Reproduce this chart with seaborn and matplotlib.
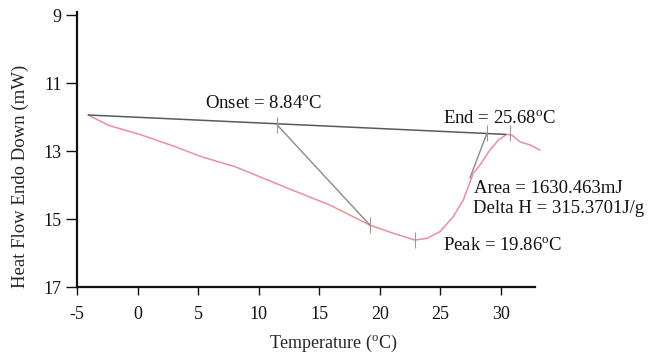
import matplotlib
matplotlib.use("Agg")
import matplotlib.pyplot as plt
import seaborn as sns
import pandas as pd

# ---- data ----
temperature = [-4.07, -2.42, 0.34, 3.09, 5.30, 8.05, 10.38, 13.14, 15.89, 19.19,
               21.12, 22.91, 23.88, 24.98, 26.07, 26.90, 27.72, 28.28, 29.10,
               29.79, 30.48, 30.90, 31.58, 32.41, 33.23]
heat_flow = [11.94, 12.24, 12.53, 12.87, 13.17, 13.46, 13.80, 14.20, 14.59, 15.18,
             15.42, 15.62, 15.57, 15.37, 14.93, 14.44, 13.66, 13.41, 12.97,
             12.68, 12.51, 12.53, 12.73, 12.82, 12.97]

baseline_x = [-4.07, 30.40]
baseline_y = [11.94, 12.51]
onset_line_x = [11.52, 19.19]
onset_line_y = [12.23, 15.18]
end_line_x = [27.45, 28.86]
end_line_y = [13.79, 12.47]
marker_x = [11.52, 19.19, 22.91, 28.86, 30.75]
marker_y = [12.23, 15.18, 15.62, 12.47, 12.47]

x_ticks = [-5, 0, 5, 10, 15, 20, 25, 30]
y_ticks = [9, 11, 13, 15, 17]

labels = [
    ("Onset = 8.84$^{\\mathrm{o}}$C", 5.57, 11.59),
    ("End = 25.68$^{\\mathrm{o}}$C", 25.22, 12.03),
    ("Area = 1630.463mJ", 27.80, 14.09),
    ("Delta H = 315.3701J/g", 27.70, 14.68),
    ("Peak = 19.86$^{\\mathrm{o}}$C", 25.20, 15.79),
]

# ---- style ----
sns.set_style("ticks")
plt.rcParams['font.family'] = ['Liberation Serif', 'DejaVu Serif']
plt.rcParams['mathtext.fontset'] = 'custom'
plt.rcParams['mathtext.rm'] = 'Liberation Serif'
plt.rcParams['mathtext.it'] = 'Liberation Serif:italic'
plt.rcParams['mathtext.bf'] = 'Liberation Serif:bold'

fig = plt.figure(figsize=(6.52, 3.55), dpi=100)
ax = fig.add_axes([77 / 652, 68 / 355, 458 / 652, 275 / 355])

df = pd.DataFrame({"Temperature": temperature, "HeatFlow": heat_flow})
sns.lineplot(data=df, x="Temperature", y="HeatFlow", ax=ax, color="#ee8e98",
             linewidth=1.1, sort=False, clip_on=False)

ax.plot(baseline_x, baseline_y, color="#5a5a5a", linewidth=1.1)
ax.plot(onset_line_x, onset_line_y, color="#8a8a8a", linewidth=1.0)
ax.plot(end_line_x, end_line_y, color="#8a8a8a", linewidth=1.0)
ax.plot(marker_x, marker_y, linestyle="none", marker="|", markersize=11,
        markeredgewidth=0.8, color="#9a9a9a")

for txt, x, y in labels:
    ax.text(x, y, txt, fontsize=13.5, ha="left", va="center", color="#111111")

ax.set_xlim(-5, 32.82)
ax.set_ylim(17, 8.91)
ax.set_xticks(x_ticks)
ax.set_yticks(y_ticks)
ax.set_xticklabels([str(t) for t in x_ticks])
ax.set_yticklabels([str(t) for t in y_ticks])

sns.despine(ax=ax)
for s in ("left", "bottom"):
    ax.spines[s].set_linewidth(1.6)
    ax.spines[s].set_color("#111111")
ax.tick_params(axis="x", length=5.5, width=1.0, pad=8, labelsize=13, colors="#111111")
ax.tick_params(axis="y", length=8, width=1.0, pad=3, labelsize=13, colors="#111111")

ax.set_xlabel("Temperature ($^{\\mathrm{o}}$C)", fontsize=13, va="center")
ax.set_ylabel("Heat Flow Endo Down (mW)", fontsize=13.5, va="center")
ax.xaxis.set_label_coords((333 - 77) / 458, (287 - 343) / 275)
ax.yaxis.set_label_coords((20 - 77) / 458, (287 - 176) / 275)

fig.savefig("out.png", dpi=100)
